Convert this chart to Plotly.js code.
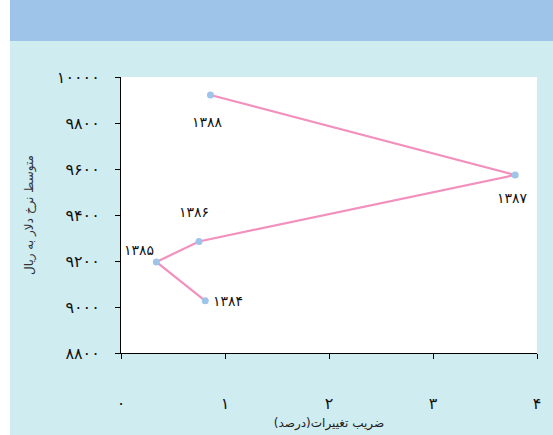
<!DOCTYPE html>
<html>
<head>
<meta charset="utf-8">
<script src="https://cdn.plot.ly/plotly-3.0.1.min.js"></script>
<style>
  html, body { margin: 0; padding: 0; background: #ffffff; }
  #chart { position: absolute; left: 10px; top: 0; width: 543px; height: 435px; }
</style>
</head>
<body>
<div id="chart"></div>
<script>
// data
const years = ['۱۳۸۴', '۱۳۸۵', '۱۳۸۶', '۱۳۸۷', '۱۳۸۸'];
const cv = [0.81, 0.34, 0.75, 3.79, 0.86];          // ضریب تغییرات (درصد)
const rate = [9027, 9196, 9285, 9574, 9922];      // متوسط نرخ دلار به ریال

const xTickVals = [0, 1, 2, 3, 4];
const xTickText = ['۰', '۱', '۲', '۳', '۴'];
const yTickVals = [8800, 9000, 9200, 9400, 9600, 9800, 10000];
const yTickText = ['۸۸۰۰', '۹۰۰۰', '۹۲۰۰', '۹۴۰۰', '۹۶۰۰', '۹۸۰۰', '۱۰۰۰۰'];

// label offsets in px relative to each point
const labelShift = [
    { dx: 6, dy: 0, anchor: 'left' },
    { dx: -17, dy: 12, anchor: 'center' },
    { dx: -5, dy: 29, anchor: 'center' },
    { dx: -3, dy: -23, anchor: 'center' },
    { dx: -3, dy: -27, anchor: 'center' }
];

const FONT = 'DejaVu Sans, Noto Sans, sans-serif';

const trace = {
    x: cv, y: rate, type: 'scatter', mode: 'lines+markers',
    line: { color: '#f291bd', width: 2.2 },
    marker: { color: '#9ec4ea', size: 7 },
    hoverinfo: 'skip'
};

const annotations = years.map((t, i) => ({
    x: cv[i], y: rate[i], xref: 'x', yref: 'y',
    text: t, showarrow: false,
    xanchor: labelShift[i].anchor,
    xshift: labelShift[i].dx, yshift: labelShift[i].dy,
    font: { family: FONT, size: 14, color: '#111' }
}));

annotations.push({
    xref: 'paper', yref: 'paper', x: 0.647, y: 1.272,
    xanchor: 'center', yanchor: 'bottom', showarrow: false,
    text: '<b>ضریب تغییرات و متوسط نرخ دلار</b>',
    font: { family: FONT, size: 18, color: '#000' }
});

const layout = {
    width: 543, height: 435,
    margin: { l: 111, r: 16, t: 77, b: 82 },
    paper_bgcolor: '#cfecf0', plot_bgcolor: '#ffffff',
    showlegend: false,
    xaxis: {
        range: [0, 4], tickvals: xTickVals, ticktext: xTickText,
        showline: true, linecolor: '#000', linewidth: 1, mirror: false,
        ticks: 'outside', ticklen: 5, tickcolor: '#000', showgrid: false, zeroline: false,
        ticklabelstandoff: 31,
        tickfont: { family: FONT, size: 16, color: '#111' },
        title: { text: 'ضریب تغییرات(درصد)', standoff: 6, font: { family: FONT, size: 12, color: '#222' } }
    },
    yaxis: {
        range: [8800, 10000], tickvals: yTickVals, ticktext: yTickText,
        showline: true, linecolor: '#000', linewidth: 1,
        ticks: 'outside', ticklen: 5, tickcolor: '#000', showgrid: false, zeroline: false,
        ticklabelstandoff: 12,
        tickfont: { family: FONT, size: 16, color: '#111' },
        title: { text: 'متوسط نرخ دلار به ریال', standoff: 20, font: { family: FONT, size: 12, color: '#333' } }
    },
    shapes: [{
        type: 'rect', xref: 'paper', yref: 'paper', layer: 'below',
        x0: -0.27, x1: 1.04, y0: 1.1304, y1: 1.3,
        fillcolor: '#9ec4e9', line: { width: 0 }
    }],
    annotations: annotations
};

Plotly.newPlot('chart', [trace], layout, { displayModeBar: false, staticPlot: true });
</script>
</body>
</html>
